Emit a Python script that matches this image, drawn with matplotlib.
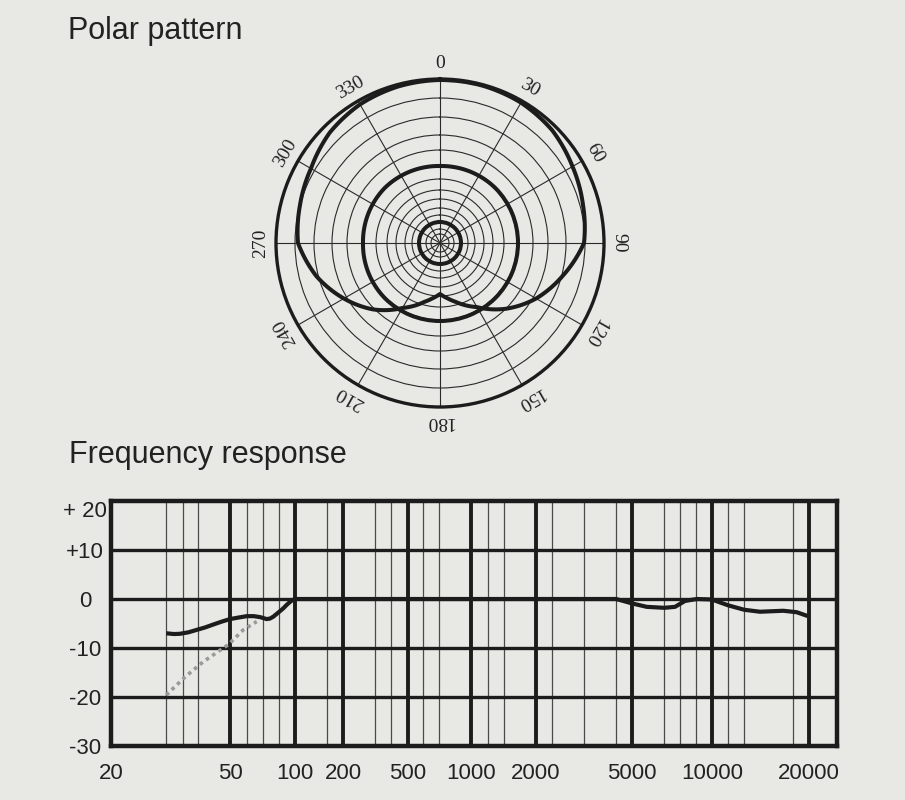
import numpy as np
import matplotlib
matplotlib.use("Agg")
import matplotlib.pyplot as plt

BG = "#e8e8e4"
INK = "#1c1c1c"

# ---------------- Polar pattern data ----------------
polar_angle_labels = [0, 30, 60, 90, 120, 150, 180, 210, 240, 270, 300, 330]
ring_radii = [9, 14, 21, 28, 35, 44, 53, 64, 77, 93, 108, 126, 145]
r_max = 164

big_angles = [0, 15, 30, 45, 60, 75, 90, 105, 120, 135, 150, 165, 172, 180,
              188, 195, 210, 225, 240, 255, 270, 285, 300, 315, 330, 345, 360]
big_r = [163, 163, 162, 159, 153, 148, 144, 127, 111, 93, 74, 61, 56, 51,
         56, 61, 75, 94, 111, 128, 142, 145, 149, 156, 160, 162, 163]

mid_angles = [0, 45, 90, 135, 180, 225, 270, 315, 360]
mid_r = [77, 78, 78, 78, 78, 78, 77, 78, 77]

small_angles = [0, 45, 90, 135, 180, 225, 270, 315, 360]
small_r = [21, 21, 21, 21, 21, 21, 21, 21, 21]

# ---------------- Frequency response data ----------------
freq_ticks = [20, 50, 100, 200, 500, 1000, 2000, 5000, 10000, 20000]
freq_tick_labels = ["20", "50", "100", "200", "500", "1000", "2000", "5000", "10000", "20000"]
db_ticks = [20, 10, 0, -10, -20, -30]
db_tick_labels = ["+ 20", "+10", "0", "-10", "-20", "-30"]

resp_f = [30.6, 32.5, 34.0, 36.3, 38.7, 41.3, 44.0, 47.0, 50, 54.5, 59.8, 64.5, 68.9,
          71.5, 73.9, 76.5, 79.4, 83.5, 88.3, 91.5, 94.8, 97.5, 100,
          500, 2000, 4291, 4601, 5000, 5681, 6614, 7258, 7579, 7914, 8761, 10000,
          10588, 11235, 12593, 14092, 16648, 18322, 19860]
resp_db = [-7.0, -7.15, -7.1, -6.8, -6.3, -5.8, -5.2, -4.6, -4.1, -3.8, -3.5, -3.5, -3.7,
           -3.9, -4.1, -4.0, -3.6, -2.8, -1.9, -1.2, -0.6, -0.2, 0.0,
           0.0, 0.0, 0.0, -0.4, -0.9, -1.6, -1.8, -1.6, -1.0, -0.4, 0.0, -0.1,
           -0.7, -1.3, -2.2, -2.6, -2.4, -2.7, -3.5]

cut_f = [30.6, 35.4, 40.7, 49.4, 57.6, 66.5]
cut_db = [-19.6, -15.9, -12.8, -9.3, -6.3, -4.6]

# ---------------- Figure ----------------
fig = plt.figure(figsize=(9.05, 8), dpi=100, facecolor=BG)
W, H = 905, 800

fig.text(68 / W, 1 - 39 / H, "Polar pattern", fontsize=22, family="Liberation Sans",
         color="#222222", va="baseline", ha="left")
fig.text(69 / W, 1 - 463 / H, "Frequency response", fontsize=22, family="Liberation Sans",
         color="#222222", va="baseline", ha="left")

# ---- polar ----
cx, cy, R = 440, 243, r_max
axp = fig.add_axes([(cx - R) / W, 1 - (cy + R) / H, 2 * R / W, 2 * R / H], projection="polar")
axp.set_facecolor(BG)
axp.set_theta_zero_location("N")
axp.set_theta_direction(-1)
axp.set_ylim(0, r_max)
axp.set_rgrids(ring_radii, labels=[""] * len(ring_radii))
axp.set_thetagrids(polar_angle_labels, labels=[""] * len(polar_angle_labels))
axp.grid(True, color="#2a2a2a", linewidth=0.8)
axp.spines["polar"].set_linewidth(2.4)
axp.spines["polar"].set_color(INK)
axp.tick_params(length=0, pad=0)

for a_list, r_list in [(big_angles, big_r), (mid_angles, mid_r), (small_angles, small_r)]:
    ln, = axp.plot(np.deg2rad(a_list), r_list, color=INK, linewidth=2.9, zorder=5,
                   solid_joinstyle="round")
    ln.get_path()._interpolation_steps = 40
    ln.recache(always=True)
    ln._path._interpolation_steps = 40

for a in polar_angle_labels:
    axp.text(np.deg2rad(a), 179, str(a), rotation=-a, ha="center", va="center",
             fontsize=14, family="Liberation Serif", color="#222222",
             rotation_mode="anchor")

# ---- frequency response ----
anchor_f = np.array(freq_ticks + [25000], dtype=float)
anchor_p = np.array([0, 119, 184, 232, 297, 360, 425, 521, 601, 698, 726], dtype=float)
la = np.log10(anchor_f)


def fwd(f):
    f = np.clip(np.asarray(f, dtype=float), 1e-6, None)
    return np.interp(np.log10(f), la, anchor_p)


def inv(p):
    p = np.asarray(p, dtype=float)
    return 10 ** np.interp(p, anchor_p, la)


axf = fig.add_axes([111 / W, 1 - 746 / H, 726 / W, 245 / H])
axf.set_facecolor(BG)
axf.set_xscale("function", functions=(fwd, inv))
axf.set_xlim(20, 25000)
axf.set_ylim(-30, 20)

thin_px = [55, 72, 87, 136, 152, 168, 216, 264, 280, 312, 328, 377, 393,
           441, 473, 505, 553, 569, 585, 617, 633, 682]
for f in inv(thin_px):
    axf.axvline(f, color="#4a4a4a", linewidth=0.9, zorder=1)
for f in freq_ticks[1:]:
    axf.axvline(f, color=INK, linewidth=2.8, zorder=2)
for d in db_ticks[1:-1]:
    axf.axhline(d, color=INK, linewidth=2.4, zorder=2)

for s in axf.spines.values():
    s.set_linewidth(3.2)
    s.set_color(INK)
    s.set_zorder(6)

axf.plot(cut_f, cut_db, color="#9a9a9a", linewidth=2.6, linestyle=(0, (1, 1.1)), zorder=4)
axf.plot(resp_f, resp_db, color=INK, linewidth=3.0, zorder=5, solid_capstyle="butt",
         solid_joinstyle="round")

axf.set_xticks(freq_ticks)
axf.set_xticklabels(freq_tick_labels)
axf.xaxis.set_minor_locator(matplotlib.ticker.NullLocator())
axf.set_yticks(db_ticks)
axf.set_yticklabels(db_tick_labels)
axf.tick_params(axis="x", length=0, pad=12, labelsize=16, labelcolor="#222222")
axf.tick_params(axis="y", length=0, pad=18.5, labelsize=16, labelcolor="#222222")
for lab in axf.get_xticklabels() + axf.get_yticklabels():
    lab.set_family("Liberation Sans")
for lab in axf.get_yticklabels():
    lab.set_horizontalalignment("center")
axf.get_yticklabels()[0].set_verticalalignment("top")

fig.savefig("out.png", dpi=100, facecolor=BG)
